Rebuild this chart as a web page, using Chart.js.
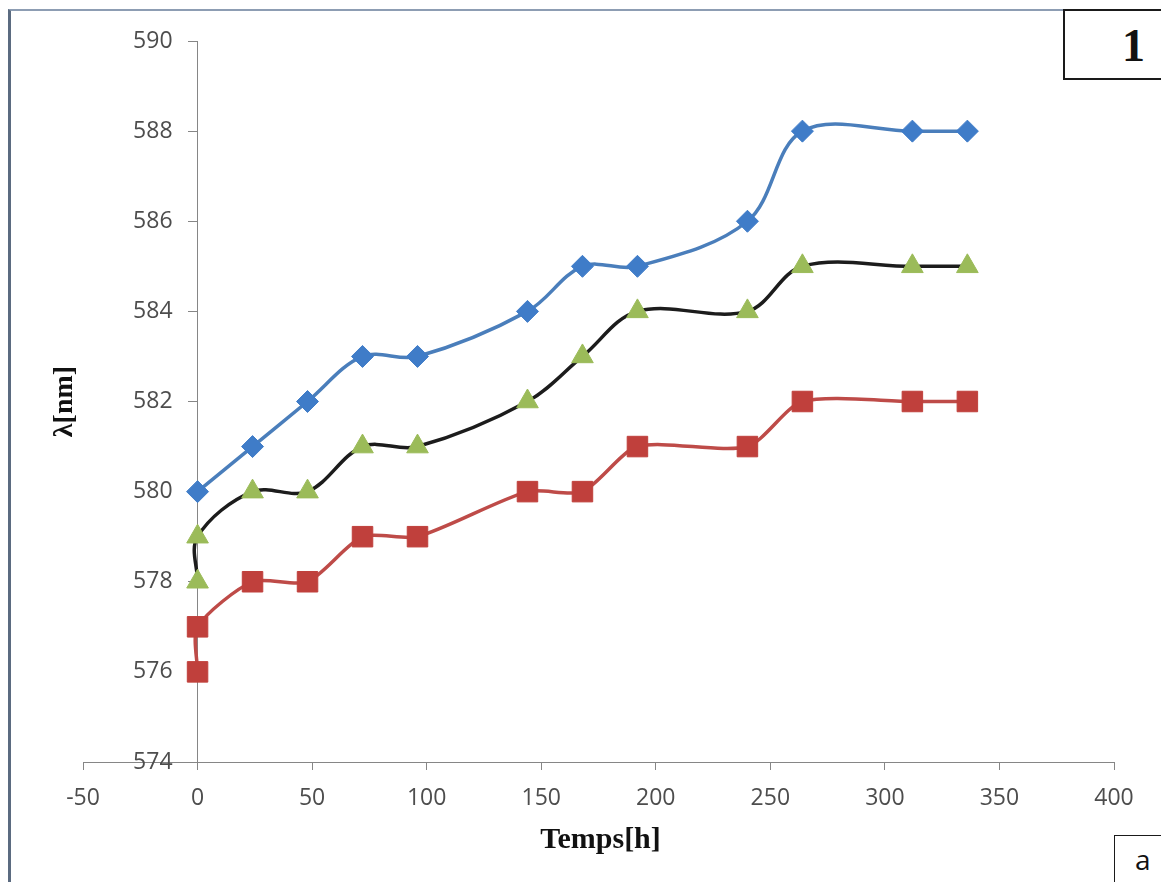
<!DOCTYPE html>
<html>
<head>
<meta charset="utf-8">
<title>λ vs Temps</title>
<script src="https://cdn.jsdelivr.net/npm/chart.js@4.4.1/dist/chart.umd.min.js"></script>
<style>
  html, body { margin: 0; padding: 0; background: #fff; }
  #wrap { position: relative; width: 1161px; height: 882px; overflow: hidden; background: #fff; }
  #frame {
    position: absolute; left: 8px; top: 9px; right: -10px; bottom: -10px;
    border-left: 3px solid #5b6b80; border-top: 2px solid #8d9db3;
  }
  #chartBox { position: absolute; left: 0; top: 0; width: 1161px; height: 882px; }
  .tag { position: absolute; background: #fff; border: 2px solid #1a1a1a; }
  #tag1 { left: 1063px; top: 9px; width: 130px; height: 67px; }
  #tag1 span {
    position: absolute; left: 57px; top: 8px;
    font: bold 46px "Liberation Serif", serif; color: #111;
  }
  #tagA { left: 1114px; top: 835px; width: 80px; height: 80px; border-width: 1.5px; }
  #tagA span {
    position: absolute; left: 20px; top: 4px;
    font: 28px "Open Sans", sans-serif; color: #111;
  }
</style>
</head>
<body>
<div id="wrap">
  <div id="frame"></div>
  <div id="chartBox"><canvas id="lambdaChart"></canvas></div>
  <div class="tag" id="tag1"><span>1</span></div>
  <div class="tag" id="tagA"><span>a</span></div>
</div>

<script>
/* ========================================
   DATA
======================================== */

const hours = [0, 24, 48, 72, 96, 144, 168, 192, 240, 264, 312, 336];
const hoursTwin = [0, 0, 24, 48, 72, 96, 144, 168, 192, 240, 264, 312, 336];

const blueValues = [580, 581, 582, 583, 583, 584, 585, 585, 586, 588, 588, 588];
const greenValues = [578, 579, 580, 580, 581, 581, 582, 583, 584, 584, 585, 585, 585];
const redValues = [576, 577, 578, 578, 579, 579, 580, 580, 581, 581, 582, 582, 582];

const xTicks = [-50, 0, 50, 100, 150, 200, 250, 300, 350, 400];
const yTicks = [574, 576, 578, 580, 582, 584, 586, 588, 590];

const xTitle = "Temps[h]";
const yTitle = "λ[nm]";

/* ========================================
   HELPERS
======================================== */

function toPoints(xs, ys) {
  return xs.map((x, i) => ({ x: x, y: ys[i] }));
}

const axisGray = "#868686";
const tickFont = { family: "'Open Sans', sans-serif", size: 23 };

// y axis sits at x = 0, put its labels left of the tick marks
const yLabelShift = {
  id: "yLabelShift",
  beforeDraw(chart) {
    const x0 = chart.scales.x.getPixelForValue(0);
    chart.scales.y.getLabelItems().forEach(it => {
      it.options.translation[0] = x0 - 25;
      it.options.textAlign = "right";
    });
  }
};

// bold serif axis titles
const axisTitles = {
  id: "axisTitles",
  afterDraw(chart) {
    const { ctx, chartArea } = chart;
    ctx.save();
    ctx.fillStyle = "#111";
    ctx.textAlign = "center";
    ctx.textBaseline = "middle";

    ctx.font = "bold 30px 'Liberation Serif', serif";
    ctx.fillText(xTitle, (chartArea.left + chartArea.right) / 2 + 2, chartArea.bottom + 78);

    ctx.translate(chartArea.left - 18, (chartArea.top + chartArea.bottom) / 2);
    ctx.rotate(-Math.PI / 2);
    ctx.font = "bold 28px 'Liberation Serif', serif";
    ctx.fillText(yTitle, 0, 0);
    ctx.restore();
  }
};

/* ========================================
   CHART
======================================== */

const ctx = document.getElementById("lambdaChart");

new Chart(ctx, {
  type: "line",
  data: {
    datasets: [
      {
        label: "blue",
        data: toPoints(hours, blueValues),
        borderColor: "#4a7ebb",
        backgroundColor: "#3f7cc8",
        borderWidth: 3.5,
        tension: 0.35,
        pointStyle: "rectRot",
        pointRadius: 11,
        pointBorderColor: "#3f7cc8",
        pointBackgroundColor: "#3f7cc8",
        pointBorderWidth: 1
      },
      {
        label: "green",
        data: toPoints(hoursTwin, greenValues),
        borderColor: "#1c1c1c",
        backgroundColor: "#9bbb59",
        borderWidth: 3.5,
        tension: 0.35,
        pointStyle: "triangle",
        pointRadius: 12.5,
        pointBorderColor: "#9bbb59",
        pointBackgroundColor: "#9bbb59",
        pointBorderWidth: 1
      },
      {
        label: "red",
        data: toPoints(hoursTwin, redValues),
        borderColor: "#be4b48",
        backgroundColor: "#c0403c",
        borderWidth: 3.5,
        tension: 0.25,
        pointStyle: "rect",
        pointRadius: 14.5,
        pointBorderColor: "#c0403c",
        pointBackgroundColor: "#c0403c",
        pointBorderWidth: 1
      }
    ]
  },
  options: {
    responsive: true,
    maintainAspectRatio: false,
    animation: false,
    layout: { padding: { left: 83, right: 47, top: 41, bottom: 0 } },
    plugins: {
      legend: { display: false },
      tooltip: { enabled: false }
    },
    scales: {
      x: {
        type: "linear",
        min: -50,
        max: 400,
        afterBuildTicks: s => { s.ticks = xTicks.map(v => ({ value: v })); },
        afterFit: s => { s.height = 120; },
        grid: { drawOnChartArea: false, color: axisGray, tickLength: 8 },
        border: { color: axisGray, width: 1 },
        ticks: { font: tickFont, color: "#4d4d4d", padding: 15, maxRotation: 0 }
      },
      y: {
        type: "linear",
        position: { x: 0 },
        min: 574,
        max: 590,
        afterBuildTicks: s => { s.ticks = yTicks.map(v => ({ value: v })); },
        grid: { drawOnChartArea: false, color: axisGray, tickLength: 9 },
        border: { color: axisGray, width: 1 },
        ticks: { font: tickFont, color: "#4d4d4d" }
      }
    }
  },
  plugins: [yLabelShift, axisTitles]
});
</script>
</body>
</html>
